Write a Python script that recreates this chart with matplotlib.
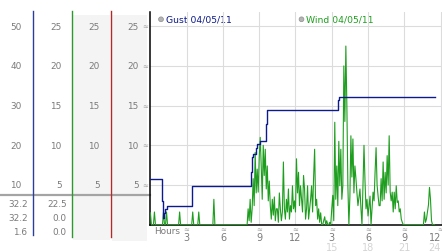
import matplotlib
matplotlib.use("Agg")
import matplotlib.pyplot as plt
from matplotlib.transforms import blended_transform_factory
from matplotlib.patches import Rectangle, Circle
import numpy as np

W, H, DPI = 442, 253, 100

# ---------------- data ----------------
wind_step_hours = 5 / 60.0
wind_values = [
    1.5, 0, 0, 0, 1.6, 0, 0, 0, 0, 0, 0, 0,                 # 0h
    0, 1.6, 0, 0, 1.6, 0, 0, 0, 0, 0, 0, 0,                 # 1h
    0, 0, 0, 0, 0, 1.6, 0, 0, 0, 0, 0, 0,                   # 2h
    0, 0, 0, 0, 0, 0, 1.6, 0, 0, 0, 0, 0,                   # 3h
    1.6, 0, 0, 0, 0, 0, 0, 0, 0, 0, 0, 0,                   # 4h
    0, 0, 0, 3.2, 0, 0, 0, 0, 0, 0, 0, 0,                   # 5h
    0, 0, 0, 0, 0, 0, 0, 0, 0, 0, 0, 0,                     # 6h
    0, 0, 0, 0, 0, 0, 0, 0, 0, 0, 0, 0,                     # 7h
    0, 2.0, 0.5, 3.2, 0.3, 2.0, 5.8, 2.4, 9.1, 4.0, 7.0, 4.1,       # 8h
    8.5, 11.0, 7.4, 3.2, 10.0, 6.2, 9.5, 4.5, 7.4, 3.0, 5.5, 2.4,   # 9h
    0.7, 3.2, 1.2, 3.5, 0.5, 2.0, 2.0, 0.3, 4.0, 2.0, 0.5, 1.6,     # 10h
    7.9, 2.0, 0.7, 3.2, 1.6, 4.5, 0.7, 2.4, 1.6, 4.9, 2.0, 3.0,     # 11h
    1.6, 8.3, 4.0, 6.6, 2.4, 4.9, 3.2, 1.6, 6.2, 4.5, 0.7, 2.0,     # 12h
    4.9, 0.7, 2.0, 3.2, 4.9, 1.6, 6.0, 9.5, 2.4, 3.2, 0.7, 2.0,     # 13h
    0.3, 1.5, 0, 0, 0.5, 1.0, 0, 0.5, 0, 0, 0.3, 0,                 # 14h
    2.0, 3.7, 0.5, 12.9, 3.2, 7.4, 2.4, 10.5, 4.9, 9.5, 3.2, 4.9,   # 15h
    20.0, 13.0, 22.5, 15.0, 4.9, 0.0, 3.5, 11.2, 6.0, 10.8, 4.0, 7.4,  # 16h
    5.8, 4.0, 2.4, 3.5, 4.5, 2.0, 0.0, 4.9, 10.0, 5.5, 2.0, 3.2,    # 17h
    1.1, 2.4, 3.6, 0.0, 2.0, 4.1, 3.0, 6.6, 9.7, 5.0, 3.6, 2.4,     # 18h
    2.4, 5.8, 3.0, 7.9, 3.2, 6.6, 4.0, 8.7, 5.0, 11.2, 4.1, 3.0,    # 19h
    4.1, 1.6, 4.1, 2.0, 4.9, 2.8, 3.0, 1.6, 2.0, 0.7, 0.3, 0,       # 20h
    0, 0, 0, 0, 0, 0, 0, 0, 0, 0, 0, 0,                             # 21h
    0, 0, 0, 0, 0, 0, 0, 0, 1.6, 0.3, 0.7, 1.6,                     # 22h
    2.5, 4.7, 3.2, 0.5, 0, 0, 0,                                    # 23h
]

gust_hours = [0.0, 0.97, 1.05, 1.12, 1.2, 1.38, 3.47, 8.33, 8.4, 8.5, 8.7, 8.85,
              9.03, 9.55, 9.67, 15.53, 15.6, 23.5]
gust_values = [11.4, 5.9, 1.6, 2.9, 4.0, 4.6, 9.8, 13.4, 17.0, 17.9, 19.3, 20.4,
               21.0, 25.4, 29.0, 31.3, 32.2, 32.2]

gust_scale = [50, 40, 30, 20, 10]
speed_scale = [25, 20, 15, 10, 5]
hour_ticks = [3, 6, 9, 12, 15, 18, 21, 24]
hour_labels_clock = ["3", "6", "9", "12", "3", "6", "9", "12"]
hour_labels_day = ["", "", "", "", "15", "18", "21", "24"]
gust_stats = ["32.2", "32.2", "1.6"]
wind_stats = ["22.5", "0.0", "0.0"]
legend_labels = ["Gust 04/05/11", "Wind 04/05/11"]

# ---------------- styles ----------------
GUST_C = "#0c1a8a"
WIND_C = "#1e9e1e"
RED_C = "#b02a2a"
TXT_C = "#7a7a7a"
GRID_C = "#dcdcdc"
FS = 6.4

fig = plt.figure(figsize=(W / DPI, H / DPI), dpi=DPI, facecolor="white")

# pixel-space overlay for the left panel
ov = fig.add_axes([0, 0, 1, 1], zorder=0)
ov.set_xlim(0, W)
ov.set_ylim(H, 0)
ov.axis("off")

# main plot area (pixel geometry)
px_left, px_top, px_bottom = 149.5, 13.0, 225.7
x0_px, px_per_hour = 150.4, 12.09
px_per_unit = 7.94
ax = fig.add_axes([px_left / W, (H - px_bottom) / H, (W - px_left) / W,
                   (px_bottom - px_top) / H], zorder=2)
ax.set_facecolor("none")
ax.set_xlim((px_left - x0_px) / px_per_hour, (W - x0_px) / px_per_hour)
ymax = (px_bottom - px_top) / px_per_unit
ax.set_ylim(0, ymax)
for s in ("top", "right"):
    ax.spines[s].set_visible(False)
for s in ("left", "bottom"):
    ax.spines[s].set_color("black")
    ax.spines[s].set_linewidth(1.1)
ax.set_xticks(hour_ticks)
ax.set_yticks(speed_scale)
ax.tick_params(length=0, labelleft=False, labelbottom=False)
ax.grid(True, color=GRID_C, linewidth=0.8)
ax.set_axisbelow(True)

wind_hours = np.arange(len(wind_values)) * wind_step_hours
ax.plot(wind_hours, wind_values, color=WIND_C, linewidth=0.8, zorder=3)

ax2 = ax.twinx()
ax2.set_ylim(0, ymax * 2)
ax2.axis("off")
ax2.step(gust_hours, gust_values, where="post", color=GUST_C, linewidth=1.0, zorder=4)

# ---------------- left panel ----------------
ty = blended_transform_factory(ov.transData, ax.transData)
ov.add_patch(Rectangle((73, 16), 37, 225, facecolor="#f4f4f4", edgecolor="none", zorder=0))
ov.add_patch(Rectangle((112, 16), 35, 226, facecolor="#f4f4f4", edgecolor="none", zorder=0))
ov.plot([0, px_left], [196, 196], color="#a4a4a4", linewidth=1.6, zorder=1)
ov.plot([33, 33], [12, 236], color="#2a3f9a", linewidth=1.0, zorder=2)
ov.plot([72, 72], [12, 238], color="#2a9a2a", linewidth=1.0, zorder=2)
ov.plot([111, 111], [12, 238], color=RED_C, linewidth=1.0, zorder=2)

for g, s in zip(gust_scale, speed_scale):
    ov.text(21.5, s, str(g), transform=ty, ha="right", va="center", fontsize=FS, color=TXT_C)
    ov.text(61.5, s, str(s), transform=ty, ha="right", va="center", fontsize=FS, color=TXT_C)
    ov.text(99.5, s, str(s), transform=ty, ha="right", va="center", fontsize=FS, color=TXT_C)
    ov.text(138.5, s, str(s), transform=ty, ha="right", va="center", fontsize=FS, color=TXT_C)
    ov.text(145, s, "\u2248", transform=ty, ha="center", va="center", fontsize=5, color="#a0a0a0")

for i, (gs, ws) in enumerate(zip(gust_stats, wind_stats)):
    yy = 204.3 + 14 * i
    ov.text(27.5, yy, gs, ha="right", va="center", fontsize=FS, color=TXT_C)
    ov.text(66.5, yy, ws, ha="right", va="center", fontsize=FS, color=TXT_C)

# ---------------- x labels ----------------
tx = blended_transform_factory(ax.transData, ov.transData)
ov.text(154, 231.7, "Hours", ha="left", va="center", fontsize=FS, color=TXT_C)
for h, l1, l2 in zip(hour_ticks, hour_labels_clock, hour_labels_day):
    ov.text(h, 230, "\u2248", transform=tx, ha="center", va="center", fontsize=5, color="#a0a0a0")
    if h == hour_ticks[-1]:
        ov.text(441, 238.5, l1, ha="right", va="center", fontsize=FS + 0.6, color=TXT_C)
        ov.text(441, 247.7, l2, ha="right", va="center", fontsize=FS + 0.6, color="#d4d4d4")
        continue
    ov.text(h, 238.5, l1, transform=tx, ha="center", va="center", fontsize=FS + 0.6, color=TXT_C)
    if l2:
        ov.text(h, 247.7, l2, transform=tx, ha="center", va="center", fontsize=FS + 0.6, color="#d4d4d4")

# ---------------- legend ----------------
for (cx, txt, col) in [(161, legend_labels[0], GUST_C), (301.5, legend_labels[1], WIND_C)]:
    ov.add_patch(Circle((cx, 20.3), 2.4, facecolor="#b4b4b4", edgecolor="#909090",
                        linewidth=0.5, zorder=5))
    ov.text(cx + 4.5, 20.3, txt, ha="left", va="center", fontsize=FS + 0.3, color=col, zorder=5)

fig.savefig("out.png", dpi=DPI, facecolor="white")
